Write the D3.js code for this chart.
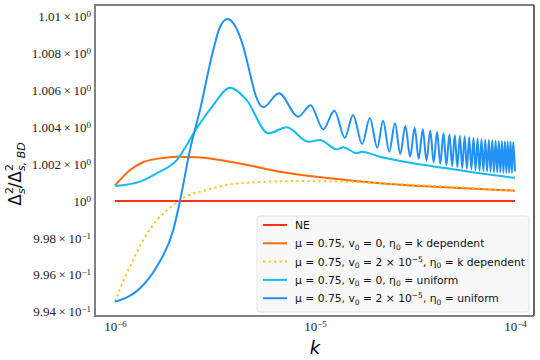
<!DOCTYPE html>
<html>
<head>
<meta charset="utf-8">
<script src="https://cdn.jsdelivr.net/npm/d3@7"></script>
<style>
  body { margin: 0; background: #fff; }
  svg { display: block; }
</style>
</head>
<body>
<div id="chart"></div>
<script>
// k values are in units of 1e-6
var kNE = [1, 100];
var vNE = [1, 1];

var kOrange = [1.0, 1.19, 1.38, 1.68, 2.04, 2.57, 3.35, 4.73, 6.68, 11.9, 21.1, 37.6, 66.8, 100];
var vOrange = [1.00084, 1.00168, 1.0021, 1.00231, 1.0024, 1.00237, 1.00222, 1.00192, 1.00159, 1.00123, 1.00096, 1.00078, 1.00065, 1.00056];

var kYellow = [1.0, 1.08, 1.21, 1.385, 1.62, 1.96, 2.11, 2.87, 4.22, 8.1, 14.4, 25.6, 45.5, 100];
var vYellow = [0.99454, 0.99545, 0.99662, 0.99789, 0.99897, 0.99978, 1.00005, 1.0006, 1.00096, 1.00108, 1.00105, 1.00092, 1.00078, 1.00056];

var kLight = [1.0, 1.334, 1.616, 2.036, 2.56, 3.1, 3.76, 4.55, 5.84, 7.22, 9.26, 10.59, 12.84, 13.85, 16.16, 17.12, 21.1, 30.9, 45.5, 66.8, 100];
var vLight = [1.00081, 1.00105, 1.0015, 1.00222, 1.00394, 1.0052, 1.00614, 1.00547, 1.00367, 1.004, 1.00321, 1.00331, 1.0028, 1.00291, 1.00259, 1.00267, 1.0024, 1.00204, 1.00177, 1.0015, 1.00126];

var kBlue = [1.0, 1.334, 1.616, 1.956, 2.113, 2.371, 2.66, 3.1, 3.35, 3.66, 3.9, 4.38, 4.73, 5.01, 5.51,
  6.6, 8.25, 9.5, 11.0, 12.5, 14.1, 15.5, 17.2, 18.8, 20.5, 21.9, 23.5,
  25.1, 26.7, 28.3, 29.9, 31.5, 33.0, 34.6, 36.1, 37.7, 39.2, 40.8, 42.3,
  43.9, 45.4, 47.0, 48.5, 50.0, 51.5, 53.0, 54.5, 56.0, 57.5, 59.0, 60.5,
  62.0, 63.5, 65.0, 66.5, 68.0, 69.5, 71.0, 72.5, 74.0, 75.5, 77.0, 78.5,
  80.0, 81.5, 83.0, 84.5, 86.0, 87.5, 89.0, 90.5, 92.0, 93.5, 95.0, 96.5, 98.0, 100];
var vBlue = [0.99454, 0.99527, 0.99644, 0.99843, 1.0, 1.00277, 1.00493, 1.00818, 1.00943, 1.00986, 1.00964, 1.00836, 1.00692, 1.00584, 1.00508,
  1.00584, 1.00457, 1.00519, 1.00389, 1.00489, 1.00343, 1.00466, 1.00309, 1.00448, 1.00289, 1.00435, 1.00267,
  1.00421, 1.00255, 1.00407, 1.0024, 1.00397, 1.00229, 1.00389, 1.00218, 1.00381, 1.0021, 1.00374, 1.00202,
  1.00367, 1.00195, 1.00361, 1.0019, 1.00356, 1.00184, 1.00352, 1.00179, 1.00349, 1.00175, 1.00345, 1.00172,
  1.00341, 1.00168, 1.00338, 1.00164, 1.00334, 1.00163, 1.00332, 1.00161, 1.00331, 1.00159, 1.00329, 1.00157,
  1.00327, 1.00156, 1.00325, 1.00155, 1.00324, 1.00154, 1.00323, 1.00153, 1.00322, 1.00153, 1.00321, 1.00152, 1.0032, 1.0016];

var yTicks = [0.994, 0.996, 0.998, 1.0, 1.002, 1.004, 1.006, 1.008, 1.01];
var yTickMant = ["9.94", "9.96", "9.98", "", "1.002", "1.004", "1.006", "1.008", "1.01"];
var yTickExp = ["\u22121", "\u22121", "\u22121", "0", "0", "0", "0", "0", "0"];

var xTicks = [1, 10, 100];
var xTickExp = ["\u22126", "\u22125", "\u22124"];

// legend label pieces: [text, "n" normal | "b" subscript | "p" superscript]
var legendLabels = [
  [["NE", "n"]],
  [["\u03bc = 0.75, v", "n"], ["0", "b"], [" = 0, \u03b7", "n"], ["0", "b"], [" = k dependent", "n"]],
  [["\u03bc = 0.75, v", "n"], ["0", "b"], [" = 2 \u00d7 10", "n"], ["\u22125", "p"], [", \u03b7", "n"], ["0", "b"], [" = k dependent", "n"]],
  [["\u03bc = 0.75, v", "n"], ["0", "b"], [" = 0, \u03b7", "n"], ["0", "b"], [" = uniform", "n"]],
  [["\u03bc = 0.75, v", "n"], ["0", "b"], [" = 2 \u00d7 10", "n"], ["\u22125", "p"], [", \u03b7", "n"], ["0", "b"], [" = uniform", "n"]]
];

var series = [
  { k: kNE, v: vNE, color: "#fb2f1c", dash: null },
  { k: kOrange, v: vOrange, color: "#ff6a0a", dash: null },
  { k: kYellow, v: vYellow, color: "#f7c21c", dash: "2.2,3.3" },
  { k: kLight, v: vLight, color: "#12bdf5", dash: null },
  { k: kBlue, v: vBlue, color: "#2191f5", dash: null }
];

var serif = "'Liberation Serif', 'Times New Roman', 'DejaVu Serif', serif";

var svgWidth = 540;
var svgHeight = 360;
var plot = { left: 95, right: 534, top: 5, bottom: 316 };

var svg = d3.select("#chart")
  .append("svg")
  .attr("width", svgWidth)
  .attr("height", svgHeight);

// log x axis, padded a little beyond 1e-6 .. 1e-4
var x = d3.scaleLog()
  .domain([Math.pow(10, -6.1), Math.pow(10, -3.905)])
  .range([plot.left, plot.right]);

var y = d3.scaleLinear()
  .domain([0.993767, 1.010623])
  .range([plot.bottom, plot.top]);

var line = d3.line()
  .x(d => x(d[0] * 1e-6))
  .y(d => y(d[1]))
  .curve(d3.curveMonotoneX);

series.forEach(function(s) {
  var pts = s.k.map((k, i) => [k, s.v[i]]);
  svg.append("path")
    .attr("d", line(pts))
    .attr("fill", "none")
    .attr("stroke", s.color)
    .attr("stroke-width", 2)
    .attr("stroke-dasharray", s.dash);
});

// spines
svg.append("line").attr("x1", plot.left).attr("x2", plot.right).attr("y1", plot.top).attr("y2", plot.top)
  .attr("stroke", "#555").attr("stroke-width", 1.5);
svg.append("line").attr("x1", plot.right).attr("x2", plot.right).attr("y1", plot.top).attr("y2", plot.bottom)
  .attr("stroke", "#333").attr("stroke-width", 1.5);
svg.append("line").attr("x1", plot.left).attr("x2", plot.left).attr("y1", plot.top - 1).attr("y2", plot.bottom + 1)
  .attr("stroke", "#808080").attr("stroke-width", 2);
svg.append("line").attr("x1", plot.left - 1).attr("x2", plot.right).attr("y1", plot.bottom).attr("y2", plot.bottom)
  .attr("stroke", "#808080").attr("stroke-width", 2);

// y axis
var yAxis = svg.append("g")
  .attr("transform", `translate(${plot.left},0)`)
  .call(d3.axisLeft(y).tickValues(yTicks).tickSize(0).tickPadding(4));
yAxis.select(".domain").remove();
yAxis.style("font-family", serif);
yAxis.selectAll(".tick text").each(function(d, i) {
  var t = d3.select(this).text("")
    .style("font-family", serif)
    .attr("font-size", 13)
    .attr("fill", "#222");
  if (yTickMant[i]) t.append("tspan").text(yTickMant[i] + "\u2009\u00d7\u2009");
  t.append("tspan").text("10");
  t.append("tspan").attr("dy", "-0.45em").attr("font-size", 9).text(yTickExp[i]);
});

// x axis
var xAxis = svg.append("g")
  .attr("transform", `translate(0,${plot.bottom})`)
  .call(d3.axisBottom(x).tickValues(xTicks.map(k => k * 1e-6)).tickSize(0).tickPadding(6));
xAxis.select(".domain").remove();
xAxis.style("font-family", serif);
xAxis.selectAll(".tick text").each(function(d, i) {
  var t = d3.select(this).text("")
    .style("font-family", serif)
    .attr("font-size", 13)
    .attr("fill", "#222");
  t.append("tspan").text("10");
  t.append("tspan").attr("dy", "-0.45em").attr("font-size", 9).text(xTickExp[i]);
});

// axis titles
svg.append("text")
  .attr("x", (115 + 515) / 2)
  .attr("y", 354)
  .attr("text-anchor", "middle")
  .attr("font-family", "'DejaVu Sans', sans-serif")
  .attr("font-style", "italic")
  .attr("font-size", 18)
  .text("k");

var yLab = svg.append("text")
  .attr("transform", "translate(21,174) rotate(-90)")
  .attr("text-anchor", "middle")
  .attr("font-family", "'DejaVu Sans', sans-serif")
  .attr("font-size", 17)
  .attr("fill", "#111");
yLab.append("tspan").text("\u0394");
yLab.append("tspan").attr("font-size", 11).attr("dy", -8).text("2");
yLab.append("tspan").attr("font-size", 11).attr("font-style", "italic").attr("dx", -7).attr("dy", 12).text("s");
yLab.append("tspan").attr("dy", -4).text("/\u0394");
yLab.append("tspan").attr("font-size", 11).attr("dy", -8).text("2");
yLab.append("tspan").attr("font-size", 11).attr("font-style", "italic").attr("dx", -7).attr("dy", 12).text("s, BD");

// legend
var legend = svg.append("g");
legend.append("rect")
  .attr("x", 257).attr("y", 216)
  .attr("width", 272).attr("height", 96)
  .attr("rx", 3)
  .attr("fill", "#f8f8f8")
  .attr("stroke", "#e4e4e4")
  .attr("stroke-width", 1);

legendLabels.forEach(function(parts, i) {
  var cy = 225 + i * 18.3;
  var s = series[i];
  legend.append("line")
    .attr("x1", 263).attr("x2", 287)
    .attr("y1", cy).attr("y2", cy)
    .attr("stroke", s.color)
    .attr("stroke-width", 2)
    .attr("stroke-dasharray", s.dash);
  var t = legend.append("text")
    .attr("x", 295).attr("y", cy + 4)
    .attr("font-family", "'DejaVu Sans', sans-serif")
    .attr("font-size", 10.75)
    .attr("fill", "#111");
  var shift = 0;
  parts.forEach(function(p) {
    var ts = t.append("tspan").text(p[0]);
    var target = p[1] === "b" ? 2.5 : p[1] === "p" ? -4 : 0;
    if (target !== shift) { ts.attr("dy", target - shift); shift = target; }
    if (p[1] !== "n") ts.attr("font-size", 7.5);
  });
});
</script>
</body>
</html>
